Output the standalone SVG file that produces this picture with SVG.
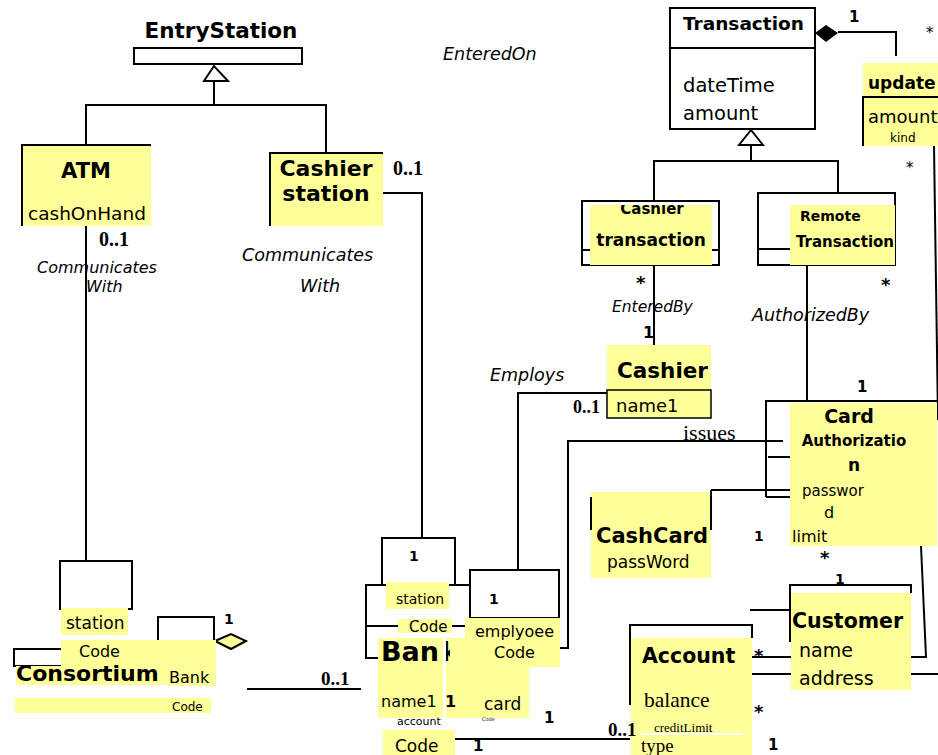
<svg xmlns="http://www.w3.org/2000/svg" width="938" height="755" viewBox="0 0 938 755">
<style>
.y{fill:#ffff99}
.w{fill:#fff}
.ln{fill:none;stroke:#000;stroke-width:2}
.bx{fill:#fff;stroke:#000;stroke-width:2}
.b{font-family:"DejaVu Sans",Verdana,sans-serif;font-weight:bold;fill:#000}
.n{font-family:"DejaVu Sans",Verdana,sans-serif;fill:#000}
.i{font-family:"DejaVu Sans",Verdana,sans-serif;font-style:italic;fill:#000}
.s{font-family:"Liberation Serif","Times New Roman",serif;fill:#000}
.sb{font-family:"Liberation Serif","Times New Roman",serif;font-weight:bold;fill:#000}
</style>
<defs>
<clipPath id="ctclip"><rect x="590" y="205" width="122" height="60"/></clipPath>
<clipPath id="bankclip"><rect x="370" y="630" width="73" height="40"/></clipPath>
<clipPath id="kclip"><rect x="446" y="630" width="4" height="40"/></clipPath>
</defs>
<rect width="938" height="755" fill="#fff"/>

<g id="connectors">
<polygon points="214,66 204,81 228,81" fill="#fff" stroke="#000" stroke-width="2"/>
<polyline class="ln" points="214,81 214,105"/>
<polyline class="ln" points="86,145 86,105 326,105 326,153"/>
<polyline class="ln" points="86,226 86,561"/>
<polyline class="ln" points="383,193 422,193 422,538"/>
<polygon points="751,130 739,145 763,145" fill="#fff" stroke="#000" stroke-width="2"/>
<polyline class="ln" points="751,145 751,161"/>
<polyline class="ln" points="654,201 654,161 838,161 838,193"/>
<polyline class="ln" points="838,32 896,32 896,56"/>
<polygon points="815,33 826,25 838,33 826,42" fill="#000"/>
<polyline class="ln" points="934,146 938,420"/>
<polyline class="ln" points="921,546 926,657 911,657"/>
<polyline class="ln" points="911,674 938,674"/>
<polyline class="ln" points="654,265 654,345"/>
<polyline class="ln" points="807,265 807,401"/>
<polyline class="ln" points="607,393 518,393 518,570"/>
<polyline class="ln" points="783,441 568,441 568,648 558,648"/>
<polyline class="ln" points="768,457 790,457"/>
<polyline class="ln" points="711,490 790,490"/>
<polyline class="ln" points="766,497 790,497"/>
<polyline class="ln" points="750,610 790,610"/>
<polyline class="ln" points="752,657 791,657"/>
<polyline class="ln" points="752,674 791,674"/>
<polyline class="ln" points="455,739 630,739"/>
<polyline class="ln" points="247,689 361,689"/>
</g>

<g id="EntryStation">
<text class="b" x="221" y="38" font-size="21.5" text-anchor="middle">EntryStation</text>
<rect class="bx" x="134" y="48" width="168" height="16"/>
</g>

<g id="ATM">
<rect class="y" x="22" y="145" width="129" height="81"/>
<polyline class="ln" points="22,226 22,145 151,145"/>
<text class="b" x="86" y="178" font-size="21" text-anchor="middle">ATM</text>
<text class="n" x="28" y="220" font-size="18.5">cashOnHand</text>
</g>

<g id="CashierStation">
<rect class="y" x="270" y="153" width="113" height="73"/>
<polyline class="ln" points="270,226 270,153 383,153"/>
<text class="b" x="326" y="176" font-size="22" text-anchor="middle">Cashier</text>
<text class="b" x="326" y="201" font-size="22" text-anchor="middle">station</text>
</g>

<g id="labels-left">
<text class="sb" x="99" y="246" font-size="20">0..1</text>
<text class="i" x="37" y="273" font-size="16">Communicates</text>
<text class="i" x="86" y="292" font-size="16">With</text>
<text class="sb" x="393" y="175" font-size="20">0..1</text>
<text class="i" x="242" y="261" font-size="17.5">Communicates</text>
<text class="i" x="300" y="292" font-size="17.5">With</text>
<text class="i" x="443" y="60" font-size="17.5">EnteredOn</text>
</g>

<g id="Transaction">
<rect class="bx" x="670" y="8" width="145" height="121"/>
<line x1="670" y1="48" x2="815" y2="48" stroke="#000" stroke-width="2"/>
<text class="b" x="683" y="30" font-size="18.5">Transaction</text>
<text class="n" x="683" y="92" font-size="19.5">dateTime</text>
<text class="n" x="683" y="120" font-size="19.5">amount</text>
<text class="b" x="849" y="22" font-size="15">1</text>
<text class="n" x="926" y="38" font-size="15" fill="#666">*</text>
</g>

<g id="update">
<rect class="y" x="863" y="63" width="75" height="83"/>
<polyline class="ln" points="863,146 863,97 938,97"/>
<text class="b" x="868" y="89" font-size="17">update</text>
<text class="n" x="868" y="123" font-size="18">amount</text>
<text class="n" x="890" y="142" font-size="12">kind</text>
<text class="n" x="906" y="173" font-size="15" fill="#666">*</text>
</g>

<g id="CashierTransaction">
<rect class="bx" x="582" y="201" width="137" height="64"/>
<line x1="582" y1="250" x2="719" y2="250" stroke="#000" stroke-width="2"/>
<rect class="y" x="590" y="205" width="122" height="60"/>
<text class="b" x="652" y="214" font-size="15" text-anchor="middle" clip-path="url(#ctclip)">Cashier</text>
<text class="b" x="651" y="246" font-size="17" text-anchor="middle">transaction</text>
<text class="b" x="636" y="289" font-size="18">*</text>
<text class="i" x="612" y="312" font-size="15.5">EnteredBy</text>
<text class="b" x="643" y="338" font-size="16">1</text>
</g>

<g id="RemoteTransaction">
<rect class="bx" x="758" y="193" width="137" height="72"/>
<line x1="758" y1="249" x2="792" y2="249" stroke="#000" stroke-width="2"/>
<rect class="y" x="790" y="205" width="105" height="60"/>
<text class="b" x="800" y="221" font-size="14">Remote</text>
<text class="b" x="796" y="247" font-size="15">Transaction</text>
<text class="b" x="881" y="291" font-size="18">*</text>
<text class="i" x="752" y="321" font-size="17.5">AuthorizedBy</text>
<text class="b" x="857" y="392" font-size="15">1</text>
</g>

<g id="Cashier">
<rect class="y" x="607" y="345" width="104" height="73"/>
<rect x="607" y="390" width="104" height="28" fill="#ffff99" stroke="#000" stroke-width="1.5"/>
<text class="b" x="617" y="378" font-size="21.5">Cashier</text>
<text class="n" x="616" y="412" font-size="18">name1</text>
<text class="sb" x="573" y="413" font-size="18">0..1</text>
<text class="i" x="490" y="381" font-size="17.5">Employs</text>
</g>

<g id="CardAuthorization">
<polyline class="ln" points="766,497 766,401 938,401"/>
<rect class="y" x="790" y="403" width="147" height="143"/>
<text class="b" x="849" y="423" font-size="19" text-anchor="middle">Card</text>
<text class="b" x="854" y="446" font-size="15" text-anchor="middle">Authorizatio</text>
<text class="b" x="854" y="471" font-size="17" text-anchor="middle">n</text>
<text class="n" x="802" y="496" font-size="15">passwor</text>
<text class="n" x="824" y="518" font-size="16">d</text>
<text class="n" x="792" y="542" font-size="16">limit</text>
<text class="s" x="683" y="440" font-size="22">issues</text>
<text class="b" x="754" y="541" font-size="14">1</text>
<text class="b" x="820" y="564" font-size="18">*</text>
</g>

<g id="CashCard">
<rect class="y" x="591" y="492" width="120" height="86"/>
<line x1="591" y1="497" x2="591" y2="530" stroke="#000" stroke-width="2"/>
<line x1="711" y1="490" x2="711" y2="530" stroke="#000" stroke-width="2"/>
<text class="b" x="596" y="543" font-size="21">CashCard</text>
<text class="n" x="607" y="568" font-size="17">passWord</text>
</g>

<g id="Customer">
<polyline class="ln" points="790,642 790,585 911,585 911,593"/>
<rect class="y" x="791" y="593" width="120" height="97"/>
<text class="b" x="835" y="584" font-size="14">1</text>
<text class="b" x="792" y="628" font-size="20.5">Customer</text>
<text class="n" x="799" y="657" font-size="19">name</text>
<text class="n" x="799" y="685" font-size="19">address</text>
</g>

<g id="Account">
<polyline class="ln" points="630,705 630,625 752,625 752,638"/>
<rect class="y" x="631" y="638" width="121" height="117"/>
<text class="b" x="642" y="663" font-size="20.5">Account</text>
<text class="s" x="644" y="707" font-size="21.5">balance</text>
<text class="s" x="654" y="732" font-size="13">creditLimit</text>
<line x1="640" y1="734" x2="743" y2="734" stroke="#fff" stroke-width="2"/>
<text class="s" x="641" y="752" font-size="19">type</text>
<text class="b" x="754" y="662" font-size="18">*</text>
<text class="b" x="754" y="718" font-size="18">*</text>
<text class="b" x="768" y="750" font-size="15">1</text>
<text class="sb" x="608" y="736" font-size="19">0..1</text>
<text class="b" x="544" y="723" font-size="15">1</text>
<text class="b" x="473" y="751" font-size="15">1</text>
</g>

<g id="Bank">
<rect class="bx" x="382" y="538" width="73" height="47"/>
<text class="b" x="409" y="561" font-size="14">1</text>
<polyline class="ln" points="380,658 366,658 366,585 470,585"/>
<line x1="366" y1="626" x2="400" y2="626" stroke="#000" stroke-width="2"/>
<line x1="448" y1="626" x2="465" y2="626" stroke="#000" stroke-width="2"/>
<rect class="y" x="386" y="582" width="63" height="27"/>
<text class="n" x="396" y="604" font-size="14">station</text>
<rect class="y" x="398" y="619" width="54" height="14"/>
<text class="n" x="409" y="632" font-size="15">Code</text>
<rect class="y" x="378" y="638" width="65" height="80"/>
<rect class="y" x="446" y="638" width="83" height="80"/>
<text class="b" x="381" y="661" font-size="27" clip-path="url(#bankclip)">Ban</text>
<text class="b" x="441" y="661" font-size="27" clip-path="url(#kclip)">k</text>
<text class="n" x="381" y="707" font-size="16">name1</text>
<text class="n" x="397" y="725" font-size="11">account</text>
<rect class="y" x="383" y="730" width="72" height="25"/>
<text class="n" x="395" y="752" font-size="17">Code</text>
</g>

<g id="Employee">
<rect class="bx" x="470" y="570" width="89" height="48"/>
<text class="b" x="489" y="604" font-size="14">1</text>
<text class="b" x="445" y="707" font-size="16">1</text>
<text class="n" x="484" y="710" font-size="17">card</text>
<text class="n" x="482" y="721" font-size="5">Code</text>
<rect class="y" x="465" y="618" width="95" height="49"/>
<text class="n" x="475" y="637" font-size="16">emplyoee</text>
<text class="n" x="494" y="658" font-size="16">Code</text>
</g>

<g id="Consortium">
<rect class="bx" x="60" y="561" width="72" height="48"/>
<rect class="y" x="61" y="608" width="67" height="27"/>
<text class="n" x="66" y="629" font-size="17">station</text>
<polyline class="ln" points="158,641 158,617 214,617 214,641"/>
<polygon points="215,641 231,634 246,641 231,649" fill="#ffff99" stroke="#000" stroke-width="2"/>
<text class="b" x="224" y="624" font-size="14">1</text>
<polyline class="ln" points="62,649 14,649 14,666 158,666"/>
<rect class="y" x="61" y="640" width="155" height="27"/>
<text class="n" x="79" y="657" font-size="16">Code</text>
<rect class="y" x="16" y="666" width="152" height="19"/>
<rect class="y" x="168" y="666" width="48" height="20"/>
<text class="b" x="16" y="681" font-size="22">Consortium</text>
<text class="n" x="169" y="683" font-size="16">Bank</text>
<rect class="y" x="15" y="698" width="196" height="15"/>
<text class="n" x="172" y="711" font-size="12">Code</text>
<text class="sb" x="321" y="685" font-size="19">0..1</text>
</g>
</svg>
